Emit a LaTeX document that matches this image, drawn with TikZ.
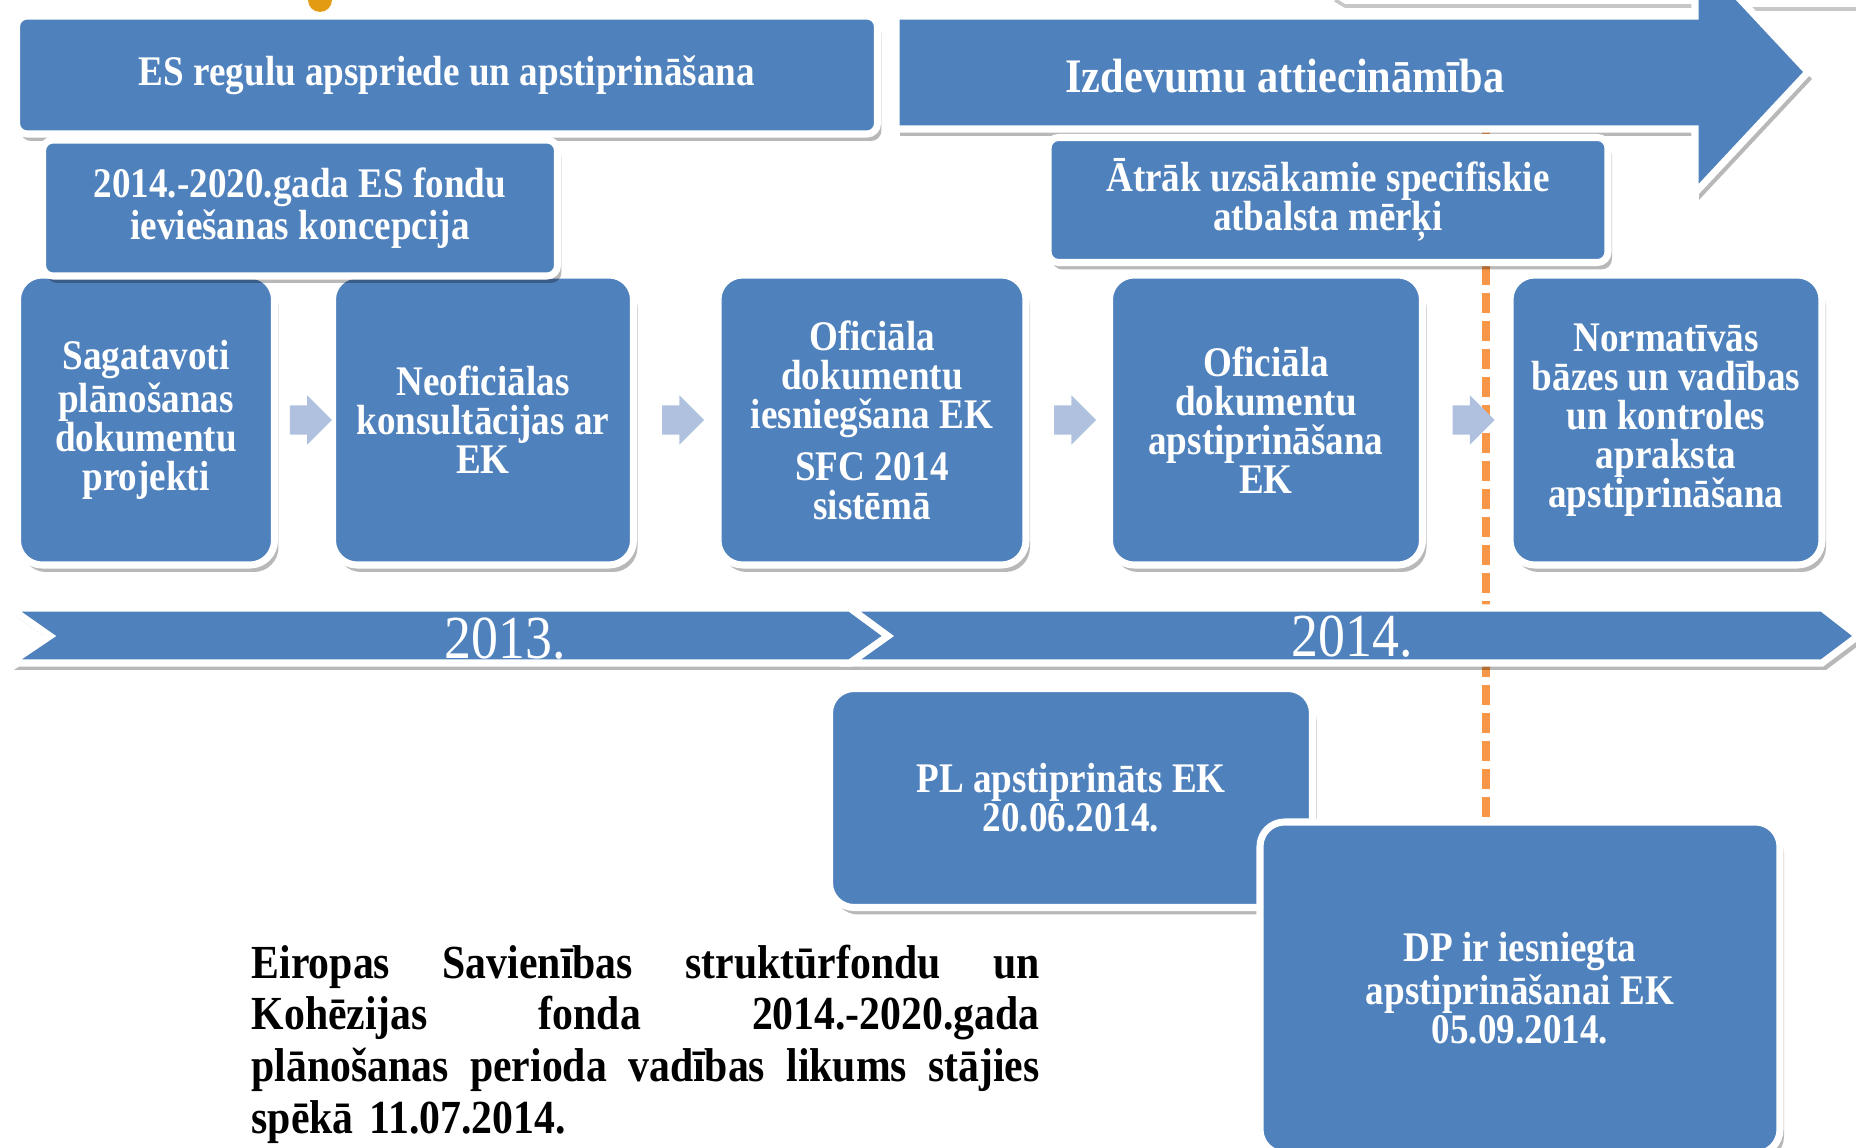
\documentclass[tikz,border=0pt]{standalone}
\usepackage{fontspec}
\setmainfont{Liberation Serif}[FakeStretch=0.88]
\usetikzlibrary{arrows.meta, positioning, shapes.arrows, shadows, calc}
\definecolor{planblue}{HTML}{4F81BD}
\definecolor{planlight}{HTML}{AFC1DE}
\definecolor{planorange}{HTML}{F79646}
\definecolor{plangold}{HTML}{E39B14}

\begin{document}
\begin{tikzpicture}[
  x=0.1mm, y=-0.1mm,
  softshadow/.style={drop shadow={shadow xshift=0.4mm, shadow yshift=-0.7mm, opacity=0.28, fill=black}},
  box/.style={draw=white, line width=2pt, fill=planblue, rounded corners=7pt, align=center,
    inner sep=0pt, text=white, font=\bfseries\fontsize{12pt}{11.1pt}\selectfont, softshadow},
  banner/.style={box, rounded corners=3pt},
  band/.style={draw=white, line width=2pt, fill=planblue, line join=miter, softshadow},
  headtext/.style={text=white, inner sep=0pt, font=\bfseries\fontsize{13.7pt}{14pt}\selectfont},
  year/.style={text=white, inner sep=0pt, font=\fontsize{17.4pt}{17.4pt}\selectfont},
  steparrow/.style={single arrow, fill=planlight, minimum height=4.2mm, inner xsep=0pt,
    inner ysep=1.4mm, single arrow head extend=1mm, single arrow head indent=0pt},
  deadline/.style={planorange, line width=2pt, dash pattern=on 2mm off 0.8mm},
  note/.style={text width=78.8mm, align=left, inner sep=0pt,
    font=\bfseries\fontsize{13.5pt}{14.7pt}\selectfont}
]
\clip (0,0) rectangle (1856,1148);

% cut-off pieces at the upper edge
\fill[plangold] (320,0) circle (1.2mm);
\draw[black!22, line width=1pt] (1335,0) -- (1345,6) -- (1700,6);
\draw[black!22, line width=1pt] (1745,9) -- (1856,9);

\coordinate (dashtop) at (1486,125);
\coordinate (dashbot) at (1486,830);
\draw[deadline] (dashtop) -- (dashbot);

\path[band] (896,16) -- (1695,16) -- (1695,-49) -- (1808,72) -- (1695,193) -- (1695,129) -- (896,129) -- cycle;
\node[headtext] (izdevumi) at (1285,76) {Izdevumu attiecināmība};

\node[banner, minimum width=86.1mm, minimum height=11.8mm] (regulas) at (447,75) {ES regulu apspriede un apstiprināšana};

\node[box, minimum width=25.7mm, minimum height=29mm] (s1) at (146,420) {Sagatavoti\\plānošanas\\dokumentu\\projekti};
\node[box, minimum width=30.1mm, minimum height=29mm] (s2) at (483,420) {Neoficiālas\\konsultācijas ar\\EK};
\node[box, minimum width=30.8mm, minimum height=29mm] (s3) at (872,420) {Oficiāla\\dokumentu\\iesniegšana EK\\[3.7pt]SFC 2014\\sistēmā};
\node[box, minimum width=31.3mm, minimum height=29mm] (s4) at (1266,420) {Oficiāla\\dokumentu\\apstiprināšana\\EK};
\node[box, minimum width=31.2mm, minimum height=29mm] (s5) at (1666,420) {Normatīvās\\bāzes un vadības\\un kontroles\\apraksta\\apstiprināšana};

\node[steparrow] (a12) at ($(s1.east)!0.5!(s2.west)$) {};
\node[steparrow] (a23) at ($(s2.east)!0.5!(s3.west)$) {};
\node[steparrow] (a34) at ($(s3.east)!0.5!(s4.west)$) {};
\node[steparrow] (a45) at ($(s4.east)!0.5!(s5.west)$) {};

\node[banner, minimum width=51.5mm, minimum height=13.6mm] (koncepcija) at (300,208) {2014.-2020.gada ES fondu\\ieviešanas koncepcija};
\node[banner, minimum width=56mm, minimum height=12.5mm] (atrak) at (1328,200) {Ātrāk uzsākamie specifiskie\\atbalsta mērķi};

\path[band] (10,608) -- (850,608) -- (888,636) -- (850,663) -- (10,663) -- (50,636) -- cycle;
\path[band] (850,608) -- (1822,608) -- (1858,636) -- (1822,663) -- (850,663) -- (888,636) -- cycle;
\node[year] (g2013) at (505,639) {2013.};
\node[year] (g2014) at (1352,637) {2014.};

\node[box, minimum width=48.3mm, minimum height=21.9mm] (pl) at (1071,798) {PL apstiprināts EK\\20.06.2014.};
\node[box, minimum width=52mm, minimum height=33.2mm] (dp) at (1520,988) {DP ir iesniegta\\apstiprināšanai EK\\05.09.2014.};

\node[note, anchor=west] (likums) at (251,1044) {Eiropas\hfill Savienības\hfill struktūrfondu\hfill un\\
Kohēzijas\hfill fonda\hfill 2014.-2020.gada\\
plānošanas\hfill perioda\hfill vadības\hfill likums\hfill stājies\\
spēkā 11.07.2014.};
\end{tikzpicture}
\end{document}
